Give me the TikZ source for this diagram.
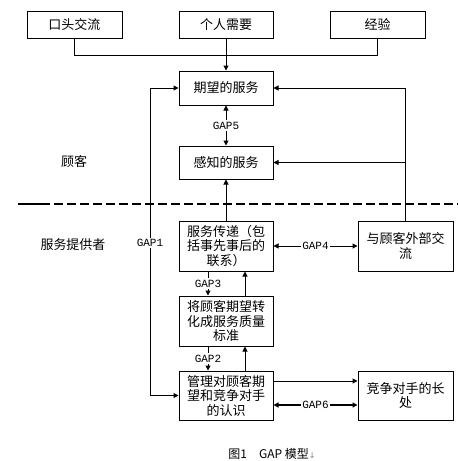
\documentclass[tikz,border=0pt]{standalone}
\usepackage{fontspec}
\setmainfont{Noto Sans CJK SC}
\newfontfamily\gapfont{Liberation Mono}
\newfontfamily\arrfont{DejaVu Sans}
\usetikzlibrary{arrows.meta}
\begin{document}
\begin{tikzpicture}[x=1pt,y=-1pt,
  box/.style={draw,line width=1pt,minimum width=94pt,inner sep=0pt,align=center,
    font=\fontsize{13}{14.5}\selectfont},
  lbl/.style={inner sep=0pt,font=\fontsize{13}{14.5}\selectfont},
  gap/.style={fill=white,inner sep=1.5pt,font=\gapfont\fontsize{11}{12}\selectfont},
  conn/.style={line width=1pt},
  tip/.style={conn,-{Triangle[length=5pt,width=5pt]}},
  both/.style={conn,{Triangle[length=5pt,width=5pt]}-{Triangle[length=5pt,width=5pt]}}]
\useasboundingbox (0,0) rectangle (458,461);
% top boxes
\node[box,minimum width=95pt,minimum height=27pt] (kt) at (74.5,24.5) {口头交流};
\node[box,minimum height=27pt] (gr) at (226,24.5) {个人需要};
\node[box,minimum width=95pt,minimum height=27pt] (jy) at (377.5,24.5) {经验};
% customer side
\node[box,minimum height=34pt] (qw) at (226,88) {期望的服务};
\node[box,minimum height=33pt] (gz) at (226,162.5) {感知的服务};
% provider side
\node[box,minimum height=50pt] (fc) at (226,246) {服务传递（包\\括事先事后的\\联系）};
\node[box,minimum width=95pt,minimum height=50pt] (wb) at (405.5,246) {与顾客外部交\\流};
\node[box,minimum height=50pt] (bz) at (226,321) {将顾客期望转\\化成服务质量\\标准};
\node[box,minimum height=49pt] (gl) at (226,395.5) {管理对顾客期\\望和竞争对手\\的认识};
\node[box,minimum width=95pt,minimum height=49pt] (jz) at (405.5,395.5) {竞争对手的长\\处};
% side labels
\node[lbl] (gk) at (74,162) {顾客};
\node[lbl] (tg) at (73,245) {服务提供者};
% dashed separator
\draw[line width=2pt] (18,204) -- (50,204);
\draw[line width=2pt,dash pattern=on 9pt off 4pt] (54,204) -- (458,204);
% connectors
\draw[conn] (kt.south) -- ++(0,17) -| (jy.south);
\draw[tip] (gr.south) -- (qw.north);
\draw[both] (qw.south) -- node[gap] (g5) {GAP5} (gz.north);
\draw[both] (qw.west) -- (150,88) -- (150,395.5) -- (gl.west);
\node[gap] (g1) at (150,243) {GAP1};
\draw[tip] (wb.north) |- (qw.east);
\draw[tip] (wb.north) |- (gz.east);
\draw[tip] (fc.north) -- (gz.south);
\draw[both] (fc.east) -- node[gap] (g4) {GAP4} (wb.west);
\draw[tip] ([xshift=-18pt]fc.south) -- node[gap] (g3) {GAP3} ([xshift=-18pt]bz.north);
\draw[tip] ([xshift=19pt]bz.north) -- ([xshift=19pt]fc.south);
\draw[tip] ([xshift=-18pt]bz.south) -- node[gap] (g2) {GAP2} ([xshift=-18pt]gl.north);
\draw[tip] ([xshift=19pt]gl.north) -- ([xshift=19pt]bz.south);
\draw[tip] ([yshift=14.5pt]gl.east) -- ([yshift=14.5pt]jz.west);
\draw[both,line width=1.5pt] ([yshift=-9.5pt]gl.east) -- node[gap] (g6) {GAP6} ([yshift=-9.5pt]jz.west);
% caption
\node[inner sep=0pt,font=\fontsize{12}{14}\selectfont] (cap) at (272,454) {图1\quad GAP 模型{\arrfont\fontsize{8}{10}\selectfont\color{gray}↓}};
\end{tikzpicture}
\end{document}
